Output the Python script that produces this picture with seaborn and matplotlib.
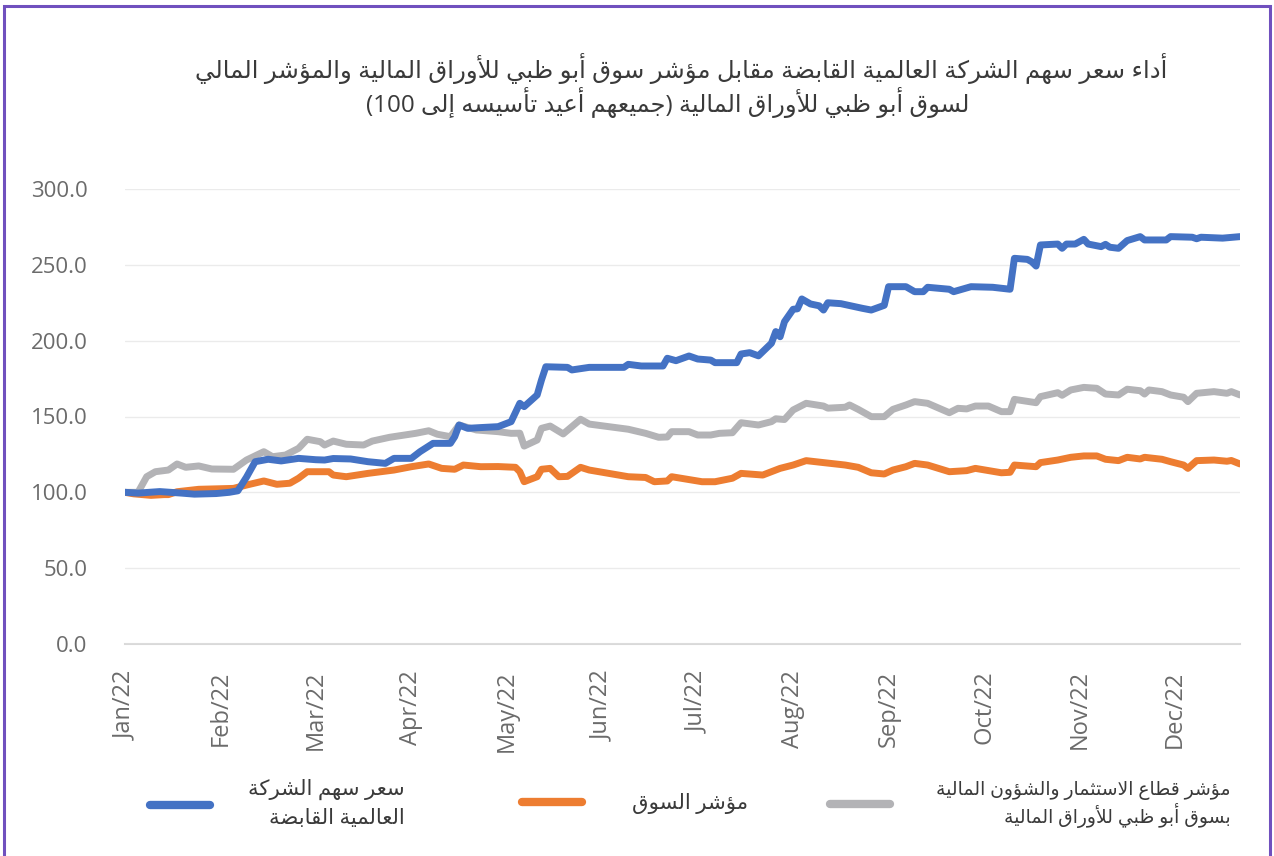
import re
import numpy as np
import pandas as pd
import matplotlib
matplotlib.use("Agg")
import matplotlib.pyplot as plt
from matplotlib.lines import Line2D
from matplotlib.patches import Rectangle
import seaborn as sns

# ---------------- data ----------------
month_labels = ["Jan/22", "Feb/22", "Mar/22", "Apr/22", "May/22", "Jun/22",
                "Jul/22", "Aug/22", "Sep/22", "Oct/22", "Nov/22", "Dec/22"]
days_per_tick = 22
last_day = 257

company_day = [0, 3, 8, 13, 16, 21, 24, 26, 28, 30, 33, 36, 40, 44, 46, 48, 52, 56, 60, 62,
               66, 68, 71, 75, 76, 77, 79, 82, 86, 89, 91, 92, 95, 96, 97, 102, 103, 107, 115, 116,
               119, 124, 125, 127, 130, 132, 135, 136, 141, 142, 144, 146, 149, 150, 151, 152, 154, 155, 156, 158,
               160, 161, 162, 165, 170, 172, 175, 176, 180, 182, 184, 185, 190, 191, 195, 200, 204, 205, 208, 209,
               210, 211, 215, 216, 217, 219, 221, 222, 225, 226, 227, 229, 231, 234, 235, 240, 241, 246, 247, 248,
               253, 257]
company_val = [100, 99.5, 100.5, 99.5, 98.8, 99.2, 100, 101, 110, 120.2, 121.8, 120.7, 122.4, 121.5, 121.3, 122.3, 122, 120.2, 119.1, 122.4,
               122.4, 126.8, 132.3, 132.3, 136.7, 144.4, 142.2, 142.7, 143.3, 146.6, 158.7, 156.5, 164.2, 174.1, 182.8, 182.4, 180.7, 182.4, 182.4, 184.4,
               183.3, 183.3, 188.4, 186.8, 189.9, 187.9, 187.2, 185.5, 185.5, 191.2, 192.1, 190, 198.3, 206, 202.6, 212.5, 220.7, 221, 227.5, 224.2,
               223, 220.2, 225, 224.4, 221.3, 220.2, 223.3, 235.6, 235.6, 232.3, 232.3, 235.2, 233.9, 232.3, 235.6, 235.2, 233.9, 254.3, 253.6, 252,
               249.2, 263.1, 263.7, 260.9, 263.7, 263.7, 266.8, 263.7, 262, 263.5, 261.6, 260.9, 266, 268.6, 266.4, 266.4, 268.6, 268.2, 267.2, 268.2,
               267.6, 268.6]

market_day = [0, 2, 6, 9, 10, 12, 17, 21, 25, 28, 32, 35, 38, 40, 42, 47, 48, 51, 56, 62,
              66, 70, 73, 76, 78, 82, 86, 90, 91, 92, 95, 96, 98, 100, 102, 105, 107, 116, 120, 122,
              125, 126, 133, 136, 140, 142, 147, 151, 154, 157, 161, 166, 169, 172, 175, 177, 180, 182, 185, 190,
              194, 196, 202, 204, 205, 210, 211, 215, 218, 221, 224, 226, 229, 231, 234, 235, 239, 241, 244, 245,
              247, 251, 254, 255, 257]
market_val = [100, 99, 98, 98.5, 98.5, 100.4, 102, 102.3, 102.6, 104.8, 107.5, 105.3, 106, 109.3, 113.6, 113.6, 111.4, 110.3, 112.5, 114.7,
              116.9, 118.7, 115.8, 115.2, 118, 116.9, 117, 116.5, 113.6, 107, 110.3, 115.2, 115.8, 110.3, 110.5, 116.5, 114.7, 110.3, 109.8, 107,
              107.5, 110.3, 107, 107, 109.3, 112.5, 111.4, 115.8, 118, 120.9, 119.6, 118, 116.5, 112.9, 112.1, 114.7, 116.9, 119.1, 118, 113.6,
              114.3, 115.8, 112.9, 113.2, 118, 116.9, 119.6, 121.3, 123.1, 124, 124, 121.8, 120.9, 123.1, 122, 123.1, 121.8, 120.2, 118, 115.8,
              120.9, 121.3, 120.5, 121, 118.7]

sector_day = [0, 3, 5, 7, 10, 12, 14, 17, 20, 25, 28, 32, 34, 37, 40, 42, 45, 46, 48, 51,
              55, 57, 61, 67, 70, 72, 75, 77, 81, 86, 89, 91, 92, 95, 96, 98, 101, 103, 105, 107,
              116, 120, 123, 125, 126, 130, 132, 135, 137, 140, 142, 146, 149, 150, 152, 154, 157, 161, 162, 166,
              167, 169, 172, 175, 177, 180, 182, 185, 190, 192, 194, 196, 199, 202, 204, 205, 210, 211, 215, 216,
              218, 221, 224, 226, 229, 231, 234, 235, 236, 239, 241, 244, 245, 247, 251, 254, 255, 257]
sector_val = [100, 100, 110.3, 113.6, 114.7, 118.7, 116.5, 117.4, 115.4, 115.2, 121.3, 126.8, 123.5, 124.6, 129, 135, 133.4, 131.2, 133.8, 131.7,
              131.2, 133.8, 136.3, 138.9, 140.6, 138.3, 136.7, 144.4, 141.1, 140, 138.9, 139, 130.5, 134.5, 142.2, 143.7, 138.5, 143.3, 148.2, 145,
              141.6, 138.9, 136.3, 136.5, 140, 140, 137.8, 137.8, 138.9, 139.3, 145.9, 144.4, 146.6, 148.5, 148, 154.3, 158.7, 156.9, 155.5, 156.1,
              157.6, 154.7, 149.9, 149.9, 154.7, 157.6, 159.8, 158.7, 152.5, 155.4, 155, 156.9, 156.9, 153.2, 153.2, 161.3, 159.1, 163.1, 165.7, 164,
              167.5, 169.2, 168.6, 164.8, 164.2, 168, 167, 164.8, 167.5, 166.4, 164.2, 162.7, 159.8, 165.3, 166.4, 165.3, 166.4, 164.2]

title_line1 = "أداء سعر سهم الشركة العالمية القابضة مقابل مؤشر سوق أبو ظبي للأوراق المالية والمؤشر المالي"
title_line2 = "لسوق أبو ظبي للأوراق المالية (جميعهم أعيد تأسيسه إلى 100)"
label_company = "سعر سهم الشركة\nالعالمية القابضة"
label_market = "مؤشر السوق"
label_sector = "مؤشر قطاع الاستثمار والشؤون المالية\nبسوق أبو ظبي للأوراق المالية"

y_ticks = [0, 50, 100, 150, 200, 250, 300]

# ---------------- Arabic shaping (presentation forms + visual order) ----------------
DUAL = {'ئ': 0xFE89, 'ب': 0xFE8F, 'ت': 0xFE95, 'ث': 0xFE99, 'ج': 0xFE9D, 'ح': 0xFEA1,
        'خ': 0xFEA5, 'س': 0xFEB1, 'ش': 0xFEB5, 'ص': 0xFEB9, 'ض': 0xFEBD, 'ط': 0xFEC1,
        'ظ': 0xFEC5, 'ع': 0xFEC9, 'غ': 0xFECD, 'ف': 0xFED1, 'ق': 0xFED5, 'ك': 0xFED9,
        'ل': 0xFEDD, 'م': 0xFEE1, 'ن': 0xFEE5, 'ه': 0xFEE9, 'ي': 0xFEF1}
RIGHT = {'آ': 0xFE81, 'أ': 0xFE83, 'ؤ': 0xFE85, 'إ': 0xFE87, 'ا': 0xFE8D, 'ة': 0xFE93,
         'د': 0xFEA9, 'ذ': 0xFEAB, 'ر': 0xFEAD, 'ز': 0xFEAF, 'و': 0xFEED, 'ى': 0xFEEF}
NONJOIN = {'ء': 0xFE80}
LAMALEF = {'آ': 0xFEF5, 'أ': 0xFEF7, 'إ': 0xFEF9, 'ا': 0xFEFB}


def shape(s):
    out = []
    i, n = 0, len(s)
    prev_joins = False
    while i < n:
        c = s[i]
        if c == 'ل' and i + 1 < n and s[i + 1] in LAMALEF:
            out.append(chr(LAMALEF[s[i + 1]] + (1 if prev_joins else 0)))
            prev_joins = False
            i += 2
            continue
        if c in DUAL:
            nxt = s[i + 1] if i + 1 < n else ''
            nj = nxt in DUAL or nxt in RIGHT
            if prev_joins and nj:
                f = 3
            elif prev_joins:
                f = 1
            elif nj:
                f = 2
            else:
                f = 0
            out.append(chr(DUAL[c] + f))
            prev_joins = True
        elif c in RIGHT:
            out.append(chr(RIGHT[c] + (1 if prev_joins else 0)))
            prev_joins = False
        elif c in NONJOIN:
            out.append(chr(NONJOIN[c]))
            prev_joins = False
        else:
            out.append(c)
            prev_joins = False
        i += 1
    return ''.join(out)


def ar(s):
    res = []
    for line in s.split('\n'):
        v = shape(line)[::-1]
        v = v.translate(str.maketrans('()', ')('))
        v = re.sub(r'[0-9]+', lambda m: m.group(0)[::-1], v)
        res.append(v)
    return '\n'.join(res)


# ---------------- style ----------------
sns.set_theme(style="white")
plt.rcParams['font.family'] = ['Open Sans', 'DejaVu Sans']

BLUE = "#4472C4"
ORANGE = "#ED7D31"
GRAY = "#B3B3B6"
TICK_COLOR = "#6B6B6B"
TEXT_COLOR = "#3A3A3A"

fig = plt.figure(figsize=(12.74, 8.56), dpi=100)
ax = fig.add_axes([125 / 1274, 1 - 644 / 856, (1240 - 125) / 1274, (644 - 189) / 856])

df = pd.concat([
    pd.DataFrame({"day": sector_day, "value": sector_val, "series": "sector"}),
    pd.DataFrame({"day": market_day, "value": market_val, "series": "market"}),
    pd.DataFrame({"day": company_day, "value": company_val, "series": "company"}),
])
palette = {"company": BLUE, "market": ORANGE, "sector": GRAY}
for name in ["sector", "market", "company"]:
    sub = df[df["series"] == name]
    sns.lineplot(data=sub, x="day", y="value", ax=ax, color=palette[name],
                 linewidth=5.0, legend=False, estimator=None, sort=True,
                 solid_joinstyle="round", solid_capstyle="round")

ax.set_xlim(0, last_day)
ax.set_ylim(0, 300)
ax.set_yticks(y_ticks)
ax.set_yticklabels([f"{v:.1f}" for v in y_ticks])
ax.set_xticks([i * days_per_tick for i in range(len(month_labels))])
ax.set_xticklabels(month_labels, rotation=90)
ax.set_xlabel("")
ax.set_ylabel("")

ax.grid(axis="y", color="#EBEBEB", linewidth=1.0)
ax.grid(axis="x", visible=False)
ax.set_axisbelow(True)
for s in ["top", "right", "left"]:
    ax.spines[s].set_visible(False)
ax.spines["bottom"].set_color("#D9D9D9")
ax.spines["bottom"].set_linewidth(1.5)
ax.spines["bottom"].set_zorder(0.5)
ax.tick_params(axis="y", length=0, pad=27, labelsize=16, labelcolor=TICK_COLOR)
ax.tick_params(axis="x", length=8, width=1.5, color="#D9D9D9", pad=11,
               labelsize=17, labelcolor=TICK_COLOR, direction="out")

# title
fig.text(681 / 1274, 1 - 68 / 856, ar(title_line1), ha="center", va="center",
         fontsize=17.6, color=TEXT_COLOR)
fig.text(668 / 1274, 1 - 102 / 856, ar(title_line2), ha="center", va="center",
         fontsize=17.4, color=TEXT_COLOR)

# legends
def add_legend(color, label, x_px, size, pad, spacing):
    h = Line2D([0], [0], color=color, linewidth=6, solid_capstyle="round")
    leg = fig.legend([h], [ar(label)], loc="center left",
                     bbox_to_anchor=(x_px / 1274, 1 - 804 / 856),
                     frameon=False, fontsize=size, handlelength=60 / (size * 100 / 72),
                     handletextpad=pad / (size * 100 / 72), borderpad=0, borderaxespad=0,
                     labelcolor=TEXT_COLOR)
    for t in leg.get_texts():
        t.set_multialignment("right")
        t.set_linespacing(spacing)
    return leg

add_legend(BLUE, label_company, 150, 15.3, 38, 1.45)
add_legend(ORANGE, label_market, 522, 15.3, 50, 1.45)
add_legend(GRAY, label_sector, 830, 13.5, 46, 1.15)

# outer frame
fig.patches.append(Rectangle((4 / 1274, -0.02), (1270 - 4) / 1274, 1 - 6 / 856 + 0.02,
                             transform=fig.transFigure, fill=False,
                             edgecolor="#7050BE", linewidth=2.2, zorder=10))

fig.savefig("out.png", dpi=100, facecolor="white")
